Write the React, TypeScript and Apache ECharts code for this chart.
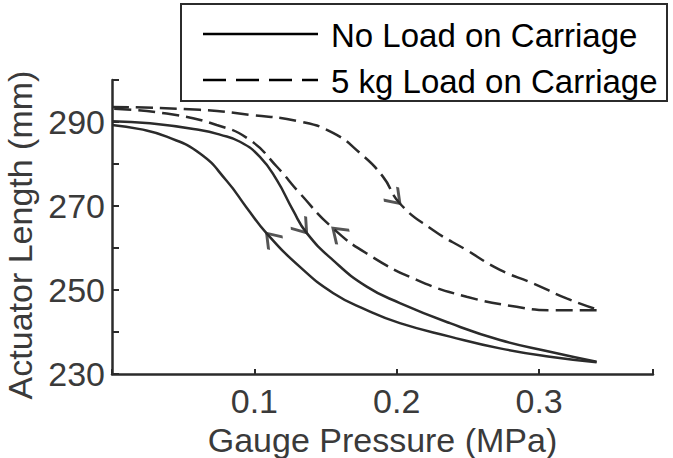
import React, { useEffect, useRef } from "react";
import * as echarts from "echarts";

const FONT = "Liberation Sans";
const INK = "#2b2b2b";
const TEXT = "#3a3a3a";

const seriesNames = ["No Load on Carriage", "5 kg Load on Carriage"];
const pressureTicks = [0.1, 0.2, 0.3];
const lengthTicks = [230, 250, 270, 290];

// [gauge pressure (MPa), actuator length (mm)], listed in order of travel
const noLoadUp: [number, number][] = [
  [0, 290.2], [0.0267, 289.7], [0.0618, 288.1], [0.0758, 287.0], [0.0899, 285.3],
  [0.1039, 281.7], [0.1157, 276.2], [0.1271, 269.0], [0.1367, 263.6], [0.1552, 257.1],
  [0.1789, 250.8], [0.2022, 246.9], [0.2374, 242.1], [0.2725, 238.1], [0.3076, 235.3],
  [0.3404, 232.9],
];
const noLoadDown: [number, number][] = [
  [0.3404, 232.8], [0.3076, 234.1], [0.2725, 236.1], [0.2374, 238.9], [0.2022, 242.1],
  [0.1789, 245.2], [0.1552, 249.3], [0.132, 255.5], [0.1086, 263.5], [0.0946, 269.6],
  [0.0805, 276.0], [0.0618, 282.5], [0.0384, 286.5], [0.0197, 288.3], [0, 289.3],
];
const loadUp: [number, number][] = [
  [0, 293.6], [0.0618, 292.9], [0.0969, 291.7], [0.132, 290.1], [0.1552, 287.4],
  [0.1742, 282.6], [0.1903, 277.0], [0.2022, 270.6], [0.2254, 264.3], [0.2491, 259.5],
  [0.2725, 254.8], [0.2957, 251.6], [0.3193, 248.0], [0.3404, 245.4],
];
const loadDown: [number, number][] = [
  [0.3404, 245.2], [0.3076, 245.2], [0.2842, 246.0], [0.2491, 248.4], [0.214, 252.4],
  [0.1789, 258.7], [0.1552, 264.7], [0.132, 273.0], [0.1157, 279.4],
  [0.0969, 285.7], [0.0735, 289.3], [0.0384, 292.0], [0, 293.2],
];

// direction arrows sit on these points of each branch
const arrowMarks = [
  { curve: noLoadUp, at: 8 },
  { curve: noLoadDown, at: 8 },
  { curve: loadUp, at: 7 },
  { curve: loadDown, at: 6 },
];

// open chevron, tip at the centre of its box
const CHEVRON = "path://M0 0L9 13L18 0M9 26";

export default function App() {
  const ref = useRef<HTMLDivElement>(null);

  useEffect(() => {
    document.body.style.margin = "0";
    if (!ref.current) return;
    const chart = echarts.init(ref.current, null, { renderer: "svg" });

    const lineSeries = (name: string, data: [number, number][], dashed: boolean) => ({
      type: "line",
      name,
      data,
      smooth: 0.5,
      symbol: "none",
      silent: true,
      lineStyle: { color: INK, width: 2.5, type: dashed ? [17, 7] : "solid" },
      z: 2,
    });

    const baseSeries = [
      lineSeries(seriesNames[0], noLoadUp, false),
      lineSeries(seriesNames[0], noLoadDown, false),
      lineSeries(seriesNames[1], loadUp, true),
      lineSeries(seriesNames[1], loadDown, true),
    ];

    chart.setOption({
      animation: false,
      grid: { left: 112, top: 80, width: 541, height: 294, containLabel: false, outerBoundsMode: "none" },
      xAxis: {
        type: "value",
        min: 0,
        max: 0.38,
        interval: 0.1,
        name: "Gauge Pressure (MPa)",
        nameLocation: "middle",
        nameGap: 36,
        nameTextStyle: { fontSize: 34, color: TEXT, fontFamily: FONT },
        axisLine: { lineStyle: { color: INK, width: 2.5 } },
        axisTick: { inside: true, length: 5, lineStyle: { color: INK, width: 2 } },
        axisLabel: {
          fontSize: 34,
          color: TEXT,
          fontFamily: FONT,
          margin: 10,
          formatter: (v: number) =>
            pressureTicks.some((t) => Math.abs(t - v) < 1e-9) ? v.toFixed(1) : "",
        },
        splitLine: { show: false },
      },
      yAxis: {
        type: "value",
        min: 230,
        max: 300,
        interval: 10,
        name: "Actuator Length (mm)",
        nameLocation: "middle",
        nameGap: 70,
        nameRotate: 90,
        nameTextStyle: { fontSize: 34, color: TEXT, fontFamily: FONT, padding: [0, 16, 0, 0] },
        axisLine: { lineStyle: { color: INK, width: 2.5 } },
        axisTick: { inside: true, length: 7, lineStyle: { color: INK, width: 2 } },
        axisLabel: {
          fontSize: 34,
          color: TEXT,
          fontFamily: FONT,
          margin: 7,
          formatter: (v: number) => (lengthTicks.includes(v) ? String(v) : ""),
        },
        splitLine: { show: false },
      },
      series: baseSeries,
      graphic: [
        {
          type: "group",
          left: 180,
          top: 3,
          z: 10,
          children: [
            {
              type: "rect",
              shape: { x: 0, y: 0, width: 486, height: 97 },
              style: { fill: "#fff", stroke: INK, lineWidth: 2 },
            },
            {
              type: "line",
              shape: { x1: 22, y1: 30, x2: 137, y2: 30 },
              style: { stroke: "#000", lineWidth: 2.5 },
            },
            {
              type: "line",
              shape: { x1: 22, y1: 76, x2: 137, y2: 76 },
              style: { stroke: "#000", lineWidth: 2.5, lineDash: [23, 10] },
            },
            {
              type: "text",
              x: 150,
              y: 31,
              style: {
                text: seriesNames[0],
                font: `33px "${FONT}"`,
                fill: "#000",
                verticalAlign: "middle",
              },
            },
            {
              type: "text",
              x: 150,
              y: 77,
              style: {
                text: seriesNames[1],
                font: `33px "${FONT}"`,
                fill: "#000",
                verticalAlign: "middle",
              },
            },
          ],
        },
      ],
    });

    // orient each chevron along its branch, in the direction of travel
    const arrowData = arrowMarks.map(({ curve, at }) => {
      const a = chart.convertToPixel({ gridIndex: 0 }, curve[at - 1]) as number[];
      const b = chart.convertToPixel({ gridIndex: 0 }, curve[at + 1]) as number[];
      const rot = (Math.atan2(b[0] - a[0], b[1] - a[1]) * 180) / Math.PI;
      return { value: curve[at], symbolRotate: rot };
    });

    chart.setOption({
      series: [
        ...baseSeries,
        {
          type: "scatter",
          data: arrowData,
          symbol: CHEVRON,
          symbolSize: [19, 27],
          symbolKeepAspect: false,
          silent: true,
          itemStyle: { color: "none", borderColor: INK, borderWidth: 3 },
          z: 3,
        },
      ],
    });

    return () => chart.dispose();
  }, []);

  return <div ref={ref} style={{ width: 673, height: 458 }} />;
}
